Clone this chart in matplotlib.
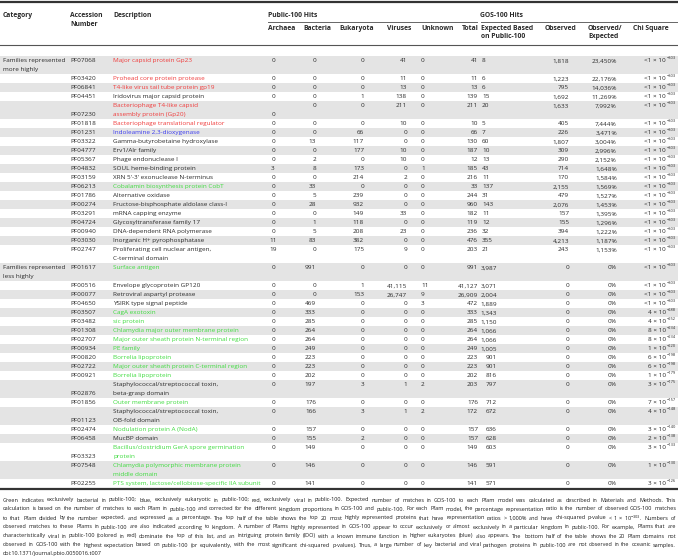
import matplotlib
matplotlib.use("Agg")
import matplotlib.pyplot as plt

plt.rcParams['font.family'] = ['Open Sans', 'DejaVu Sans']
plt.rcParams['mathtext.fontset'] = 'custom'
plt.rcParams['mathtext.rm'] = 'Open Sans'
plt.rcParams['mathtext.it'] = 'Open Sans:italic'
plt.rcParams['mathtext.bf'] = 'Open Sans:bold'

# ---- data: families represented more highly ----
top_acc = ['PF07068', 'PF03420', 'PF06841', 'PF04451', 'PF07230', 'PF01818', 'PF01231',
           'PF03322', 'PF04777', 'PF05367', 'PF04832', 'PF03159', 'PF06213', 'PF01786',
           'PF00274', 'PF03291', 'PF04724', 'PF00940', 'PF03030', 'PF02747']
top_desc = ['Major capsid protein Gp23', 'Prohead core protein protease',
            'T4-like virus tail tube protein gp19', 'Iridovirus major capsid protein',
            'Bacteriophage T4-like capsid\nassembly protein (Gp20)',
            'Bacteriophage translational regulator', 'Indoleamine 2,3-dioxygenase',
            'Gamma-butyrobetaine hydroxylase', 'Erv1/Alr family', 'Phage endonuclease I',
            'SOUL heme-binding protein', "XRN 5'-3' exonuclease N-terminus",
            'Cobalamin biosynthesis protein CobT', 'Alternative oxidase',
            'Fructose-bisphosphate aldolase class-I', 'mRNA capping enzyme',
            'Glycosyltransferase family 17', 'DNA-dependent RNA polymerase',
            'Inorganic H+ pyrophosphatase',
            'Proliferating cell nuclear antigen,\nC-terminal domain']
top_kind = ['r', 'r', 'r', 'k', 'r', 'r', 'b', 'k', 'k', 'k',
            'k', 'k', 'g', 'k', 'k', 'k', 'k', 'k', 'k', 'k']
top_arch = [0, 0, 0, 0, 0, 0, 0, 0, 0, 0, 3, 0, 0, 0, 0, 0, 0, 0, 11, 19]
top_bact = [0, 0, 0, 0, 0, 0, 0, 13, 0, 2, 8, 0, 33, 5, 28, 0, 1, 5, 83, 0]
top_euk = [0, 0, 0, 1, 0, 0, 66, 117, 177, 0, 173, 214, 0, 239, 932, 149, 118, 208, 382, 175]
top_vir = [41, 11, 13, 138, 211, 10, 0, 0, 10, 10, 0, 2, 0, 0, 0, 33, 0, 23, 0, 9]
top_unk = [0, 0, 0, 0, 0, 0, 0, 0, 0, 0, 1, 0, 0, 0, 0, 0, 0, 0, 0, 0]
top_total = [41, 11, 13, 139, 211, 10, 66, 130, 187, 12, 185, 216, 33, 244, 960, 182,
             119, 236, 476, 203]
top_exp = [8, 6, 6, 15, 20, 5, 7, 60, 10, 13, 43, 11, 137, 31, 143, 11, 12, 32, 355, 21]
top_obs = [1818, 1223, 795, 1692, 1633, 405, 226, 1807, 309, 290, 714, 170, 2155, 479,
           2076, 157, 155, 394, 4213, 243]
top_ratio = ['23,450%', '22,176%', '14,036%', '11,269%', '7,992%', '7,444%', '3,471%',
             '3,004%', '2,996%', '2,152%', '1,648%', '1,584%', '1,569%', '1,527%',
             '1,453%', '1,395%', '1,296%', '1,222%', '1,187%', '1,153%']
top_chi = [('<1', 303)] * 20

# ---- data: families represented less highly ----
bot_acc = ['PF01617', 'PF00516', 'PF00077', 'PF04650', 'PF03507', 'PF03482', 'PF01308',
           'PF02707', 'PF00934', 'PF00820', 'PF02722', 'PF00921', 'PF02876', 'PF01856',
           'PF01123', 'PF02474', 'PF06458', 'PF03323', 'PF07548', 'PF02255']
bot_desc = ['Surface antigen', 'Envelope glycoprotein GP120', 'Retroviral aspartyl protease',
            'YSIRK type signal peptide', 'CagA exotoxin', 'sic protein',
            'Chlamydia major outer membrane protein',
            'Major outer sheath protein N-terminal region', 'PE family',
            'Borrelia lipoprotein', 'Major outer sheath protein C-terminal region',
            'Borrelia lipoprotein', 'Staphylococcal/streptococcal toxin,\nbeta-grasp domain',
            'Outer membrane protein', 'Staphylococcal/streptococcal toxin,\nOB-fold domain',
            'Nodulation protein A (NodA)', 'MucBP domain',
            'Bacillus/clostridium GerA spore germination\nprotein',
            'Chlamydia polymorphic membrane protein\nmiddle domain',
            'PTS system, lactose/cellobiose-specific IIA subunit']
bot_kind = ['g', 'k', 'k', 'k', 'g', 'g', 'g', 'g', 'g', 'g',
            'g', 'g', 'k', 'g', 'k', 'g', 'k', 'g', 'g', 'g']
bot_arch = [0] * 20
bot_bact = [991, 0, 0, 469, 333, 285, 264, 264, 249, 223, 223, 202, 197, 176, 166, 157,
            155, 149, 146, 141]
bot_euk = [0, 1, 153, 0, 0, 0, 0, 0, 0, 0, 0, 0, 3, 0, 3, 0, 2, 0, 0, 0]
bot_vir = [0, 41115, 26747, 0, 0, 0, 0, 0, 0, 0, 0, 0, 1, 0, 1, 0, 0, 0, 0, 0]
bot_unk = [0, 11, 9, 3, 0, 0, 0, 0, 0, 0, 0, 0, 2, 0, 2, 0, 0, 0, 0, 0]
bot_total = [991, 41127, 26909, 472, 333, 285, 264, 264, 249, 223, 223, 202, 203, 176,
             172, 157, 157, 149, 146, 141]
bot_exp = [3987, 3071, 2004, 1889, 1343, 1150, 1066, 1066, 1005, 901, 901, 816, 797, 712,
           672, 636, 628, 603, 591, 571]
bot_obs = [0] * 20
bot_ratio = ['0%'] * 20
bot_chi = [('<1', 303), ('<1', 303), ('<1', 303), ('<1', 303), ('4', 288), ('4', 252),
           ('8', 234), ('8', 234), ('1', 220), ('6', 198), ('6', 198), ('1', 179),
           ('3', 175), ('7', 157), ('4', 148), ('3', 140), ('2', 138), ('3', 133),
           ('1', 130), ('3', 126)]

# rows where the accession number sits on the second line (as in the source table)
acc_second_line = {'PF07230', 'PF02876', 'PF01123', 'PF03323'}
arch_second_line = {'PF07230'}

caption_lines = [
    "Green indicates exclusively bacterial in public-100; blue, exclusively eukaryotic in public-100; red, exclusively viral in public-100. Expected number of matches in GOS-100 to each Pfam model was calculated as described in Materials and Methods. This",
    "calculation is based on the number of matches to each Pfam in public-100 and corrected for the different kingdom proportions in GOS-100 and public-100. For each Pfam model, the percentage representation ratio is the number of observed GOS-100 matches",
    "to that Pfam divided by the number expected, and expressed as a percentage. The top half of the table shows the top 20 most highly represented proteins that have representation ratios > 1,000% and have chi-squared p-value < 1 \u00d7 10$^{-303}$. Numbers of",
    "observed matches to these Pfams in public-100 are also indicated according to kingdom. A number of Pfams highly represented in GOS-100 appear to occur exclusively or almost exclusively in a particular kingdom in public-100. For example, Pfams that are",
    "characteristically viral in public-100 (colored in red) dominate the top of this list, and an intriguing protein family (IDO) with a known immune function in higher eukaryotes (blue) also appears. The bottom half of the table shows the 20 Pfam domains not",
    "observed in GOS-100 with the highest expectation based on public-100 (or equivalently, with the most significant chi-squared p-values). Thus, a large number of key bacterial and viral pathogen proteins in public-100 are not observed in the oceanic samples.",
]
doi_text = "doi:10.1371/journal.pbio.0050016.t007"

colors = {'r': '#f03c3c', 'b': '#3b3bf0', 'g': '#3fdc3f', 'k': '#2a2a2a'}
txt = '#2a2a2a'
shade = '#e4e4e4'
fs = 4.6
hfs = 4.9

fig = plt.figure(figsize=(6.78, 5.6), dpi=100)
ax = fig.add_axes([0, 0, 1, 1])
ax.set_xlim(0, 678)
ax.set_ylim(560, 0)
ax.axis('off')

# header
ax.axhline(1.8, color='#333333', lw=1.6)
hdr = dict(fontsize=hfs, fontweight='bold', color=txt, va='center')
ax.text(3, 15.6, 'Category', **hdr)
ax.text(70, 15.6, 'Accession', **hdr)
ax.text(70, 25, 'Number', **hdr)
ax.text(113, 15.6, 'Description', **hdr)
ax.text(268, 15.6, 'Public-100 Hits', **hdr)
ax.text(480, 15.6, 'GOS-100 Hits', **hdr)
ax.plot([268, 477], [22, 22], color='#666666', lw=0.7)
ax.plot([481, 678], [22, 22], color='#666666', lw=0.7)
for x, lab in [(268, 'Archaea'), (303, 'Bacteria'), (339, 'Eukaryota'), (387, 'Viruses'),
               (421, 'Unknown'), (462, 'Total'), (481, 'Expected Based'), (545, 'Observed'),
               (588, 'Observed/'), (633, 'Chi Square')]:
    ax.text(x, 29, lab, **hdr)
ax.text(481, 36.5, 'on Public-100', **hdr)
ax.text(588, 36.5, 'Expected', **hdr)
ax.axhline(45, color='#555555', lw=0.8)

LINE = 9.0


def fmt(v):
    return f"{v:,}"


def draw_group(y0, category, acc, desc, kind, arch, bact, euk, vir, unk, total, exp, obs,
               ratio, chi, exp_right):
    y = y0
    for i in range(len(acc)):
        dlines = desc[i].split('\n')
        n = max(len(dlines), 2 if i == 0 else 1)
        if i % 2 == 0:
            ax.axhspan(y, y + n * LINE, color=shade, lw=0, zorder=0)
        yc = y + 4.8
        kw = dict(fontsize=fs, color=txt, va='center')
        if i == 0:
            for j, c in enumerate(category.split('\n')):
                ax.text(3, yc + j * LINE, c, **kw)
        ya = yc + LINE if acc[i] in acc_second_line else yc
        ax.text(70, ya, acc[i], **kw)
        for j, d in enumerate(dlines):
            ax.text(113, yc + j * LINE, d, fontsize=fs, color=colors[kind[i]], va='center')
        yar = yc + LINE if acc[i] in arch_second_line else yc
        ax.text(273, yar, fmt(arch[i]), ha='center', **kw)
        ax.text(316, yc, fmt(bact[i]), ha='right', **kw)
        ax.text(364, yc, fmt(euk[i]), ha='right', **kw)
        ax.text(407, yc, fmt(vir[i]), ha='right', **kw)
        ax.text(421, yc, fmt(unk[i]), ha='left', **kw)
        ax.text(478, yc, fmt(total[i]), ha='right', **kw)
        if exp_right:
            ax.text(497, yc, fmt(exp[i]), ha='right', **kw)
        else:
            ax.text(482, yc, fmt(exp[i]), ha='left', **kw)
        ax.text(569, yc, fmt(obs[i]), ha='right', **kw)
        ax.text(617, yc, ratio[i], ha='right', **kw)
        m, e = chi[i]
        ax.text(666, yc, m + ' \u00d7 10', ha='right', **kw)
        ax.text(666.5, yc - 2.6, '\u2212' + str(e), fontsize=fs * 0.62, color=txt,
                va='center', ha='left')
        y += n * LINE
    return y


y = draw_group(56, 'Families represented\nmore highly', top_acc, top_desc, top_kind,
               top_arch, top_bact, top_euk, top_vir, top_unk, top_total, top_exp, top_obs,
               top_ratio, top_chi, False)
y = draw_group(y, 'Families represented\nless highly', bot_acc, bot_desc, bot_kind,
               bot_arch, bot_bact, bot_euk, bot_vir, bot_unk, bot_total, bot_exp, bot_obs,
               bot_ratio, bot_chi, True)
ax.axhline(y + 1, color='#333333', lw=1.6)

# caption: find the size at which the widest line fills the width (measured at the
# real size, since small hinted text does not scale linearly), then justify
renderer = fig.canvas.get_renderer()
px = 678 / fig.bbox.width
x0, x1 = 3, 676
cap = dict(color='#1e1e1e', va='center')


def width_of(s, size):
    t = ax.text(0, 0, s, fontsize=size)
    w = t.get_window_extent(renderer).width * px
    t.remove()
    return w


def natural_width(line, size):
    words = line.split(' ')
    space = width_of('n n', size) - width_of('nn', size)
    return sum(width_of(w, size) for w in words) + space * (len(words) - 1)


cfs = 4.0
for _ in range(4):
    widest = max(natural_width(line, cfs) for line in caption_lines)
    cfs *= (x1 - x0) / widest
cfs *= 0.995

for k, line in enumerate(caption_lines):
    yy = 500 + k * 9
    words = line.split(' ')
    tobjs = [ax.text(0, yy, w, fontsize=cfs, **cap) for w in words]
    widths = [t.get_window_extent(renderer).width * px for t in tobjs]
    gap = (x1 - x0 - sum(widths)) / (len(words) - 1)
    xx = x0
    for t, w in zip(tobjs, widths):
        t.set_x(xx)
        xx += w + gap
ax.text(3, 500 + 6 * 9, doi_text, fontsize=cfs, **cap)

fig.savefig('out.png', dpi=100)
